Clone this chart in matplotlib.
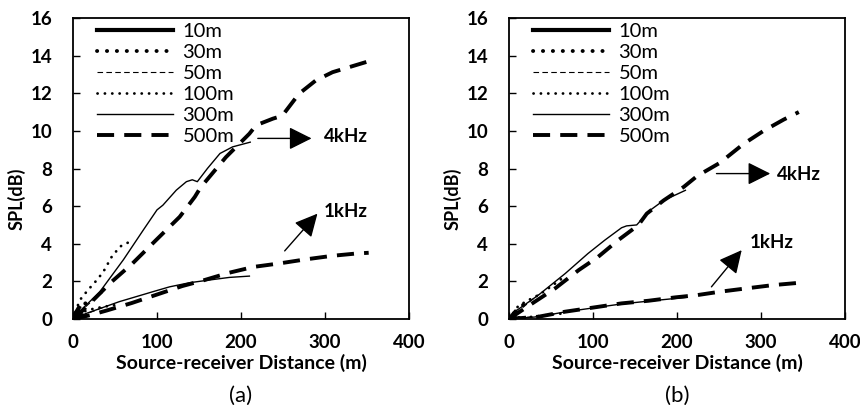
import numpy as np
import matplotlib
matplotlib.use('Agg')
import matplotlib.pyplot as plt

plt.rcParams['font.family'] = ['Lato', 'DejaVu Sans']

dist_labels = ['10m', '30m', '50m', '100m', '300m', '500m']

# ---- panel (a), 4kHz
a4k_10m_x = [0, 3, 7];              a4k_10m_y = [0, 0.3, 0.6]
a4k_30m_x = [0, 7, 14, 21];         a4k_30m_y = [0, 0.45, 0.8, 1.1]
a4k_50m_x = [0, 10, 20, 35];        a4k_50m_y = [0, 0.45, 0.85, 1.4]
a4k_100m_x = [0, 8, 18, 28, 36, 46, 56, 65, 73]
a4k_100m_y = [0, 1.0, 1.55, 2.05, 2.5, 3.3, 3.85, 4.05, 4.2]
a4k_300m_x = [0, 4, 32, 60, 84, 100, 107, 123, 135, 142, 148, 160, 175, 190, 211]
a4k_300m_y = [0, 0.23, 1.45, 3.15, 4.75, 5.8, 6.05, 6.85, 7.3, 7.4, 7.3, 8.0, 8.8, 9.15, 9.4]
a4k_500m_x = [0, 8, 24, 44, 71, 99, 127, 145, 152, 182, 210, 218, 238, 249, 269, 289, 309, 329, 352]
a4k_500m_y = [0, 0.3, 1.0, 1.9, 2.96, 4.2, 5.43, 6.49, 7.0, 8.6, 9.85, 10.3, 10.65, 10.8, 11.97, 12.68, 13.12, 13.39, 13.7]

# ---- panel (a), 1kHz
a1k_10m_x = [0, 7];                 a1k_10m_y = [0, 0.25]
a1k_30m_x = [0, 21];                a1k_30m_y = [0, 0.4]
a1k_50m_x = [0, 35];                a1k_50m_y = [0, 0.6]
a1k_100m_x = [0, 10, 20, 36, 52];   a1k_100m_y = [0, 0.35, 0.5, 0.65, 0.75]
a1k_300m_x = [0, 16, 55, 95, 115, 139, 162, 186, 210]
a1k_300m_y = [0, 0.3, 0.92, 1.45, 1.71, 1.93, 2.07, 2.21, 2.28]
a1k_500m_x = [0, 20, 40, 70, 100, 130, 155, 185, 215, 245, 277, 309, 337, 352]
a1k_500m_y = [0, 0.2, 0.45, 0.85, 1.3, 1.75, 2.05, 2.45, 2.77, 2.95, 3.17, 3.36, 3.48, 3.52]

# ---- panel (b), 4kHz
b4k_10m_x = [0, 7];                 b4k_10m_y = [0, 0.35]
b4k_30m_x = [0, 10, 21];            b4k_30m_y = [0, 0.5, 0.9]
b4k_50m_x = [0, 35];                b4k_50m_y = [0, 1.3]
b4k_100m_x = [0, 11, 23, 35, 43, 55, 65]
b4k_100m_y = [0, 0.69, 1.0, 1.27, 1.5, 1.89, 2.21]
b4k_300m_x = [0, 7, 35, 67, 94, 114, 134, 140, 152, 168, 184, 210]
b4k_300m_y = [0, 0.39, 1.27, 2.42, 3.48, 4.19, 4.85, 4.95, 5.0, 5.78, 6.3, 6.84]
b4k_500m_x = [0, 25, 55, 83, 106, 130, 154, 164, 184, 208, 224, 251, 279, 303, 327, 345]
b4k_500m_y = [0, 0.75, 1.63, 2.6, 3.3, 4.19, 4.99, 5.6, 6.3, 7.02, 7.6, 8.3, 9.3, 10.0, 10.6, 11.0]

# ---- panel (b), 1kHz
b1k_10m_x = [0, 7];                 b1k_10m_y = [0, 0.05]
b1k_30m_x = [0, 21];                b1k_30m_y = [0, 0.1]
b1k_50m_x = [0, 35];                b1k_50m_y = [0, 0.15]
b1k_100m_x = [0, 20, 40, 65];       b1k_100m_y = [0, 0.08, 0.18, 0.3]
b1k_300m_x = [0, 35, 67, 102, 134, 166, 211]
b1k_300m_y = [0, 0.12, 0.38, 0.6, 0.8, 0.95, 1.15]
b1k_500m_x = [0, 35, 67, 102, 134, 166, 198, 224, 251, 283, 314, 352]
b1k_500m_y = [0, 0.12, 0.39, 0.62, 0.83, 0.97, 1.15, 1.27, 1.45, 1.63, 1.8, 1.95]

# arrows: (start), (end), text position, text
a_arrows = [((220, 9.6), (284, 9.6), (299, 9.7), '4kHz'),
            ((252, 3.62), (291, 5.6), (299, 5.7), '1kHz')]
b_arrows = [((247, 7.73), (311, 7.73), (319, 7.7), '4kHz'),
            ((241, 1.71), (277, 3.66), (287, 4.05), '1kHz')]

styles = {
    '10m':  dict(lw=3.0, ls='-'),
    '30m':  dict(lw=2.8, ls=(0, (0.05, 2.5)), dash_capstyle='round'),
    '50m':  dict(lw=0.8, ls=(0, (5.0, 3.0))),
    '100m': dict(lw=2.0, ls=(0, (0.05, 2.6)), dash_capstyle='round'),
    '300m': dict(lw=1.0, ls='-'),
    '500m': dict(lw=2.8, ls=(0, (4.4, 2.6))),
}

panels = [
    ('(a)', [a4k_10m_x, a4k_30m_x, a4k_50m_x, a4k_100m_x, a4k_300m_x, a4k_500m_x],
            [a4k_10m_y, a4k_30m_y, a4k_50m_y, a4k_100m_y, a4k_300m_y, a4k_500m_y],
            [a1k_10m_x, a1k_30m_x, a1k_50m_x, a1k_100m_x, a1k_300m_x, a1k_500m_x],
            [a1k_10m_y, a1k_30m_y, a1k_50m_y, a1k_100m_y, a1k_300m_y, a1k_500m_y], a_arrows),
    ('(b)', [b4k_10m_x, b4k_30m_x, b4k_50m_x, b4k_100m_x, b4k_300m_x, b4k_500m_x],
            [b4k_10m_y, b4k_30m_y, b4k_50m_y, b4k_100m_y, b4k_300m_y, b4k_500m_y],
            [b1k_10m_x, b1k_30m_x, b1k_50m_x, b1k_100m_x, b1k_300m_x, b1k_500m_x],
            [b1k_10m_y, b1k_30m_y, b1k_50m_y, b1k_100m_y, b1k_300m_y, b1k_500m_y], b_arrows),
]

fig = plt.figure(figsize=(8.6, 4.05), dpi=100)
lefts = [73/860., 509/860.]

for k, (tag, x4, y4, x1, y1, arrows) in enumerate(panels):
    ax = fig.add_axes([lefts[k], 86/405., 336/860., 301/405.])
    for i, lab in enumerate(dist_labels):
        ax.plot(x4[i], y4[i], color='k', label=lab, **styles[lab])
        ax.plot(x1[i], y1[i], color='k', **styles[lab])

    for (p0, p1, pt, txt) in arrows:
        ax.annotate('', xy=p1, xytext=p0,
                    arrowprops=dict(arrowstyle='-|>,head_length=1.4,head_width=0.7',
                                    mutation_scale=10, color='k', lw=1.0,
                                    shrinkA=0, shrinkB=0))
        ax.text(pt[0], pt[1], txt, fontsize=13.5, fontweight='bold', va='center', ha='left')

    ax.set_xlim(0, 400)
    ax.set_ylim(0, 16)
    ax.set_xticks(np.arange(0, 401, 100))
    ax.set_yticks(np.arange(0, 17, 2))
    ax.tick_params(direction='in', length=5, width=1, labelsize=13.5)
    ax.tick_params(axis='x', pad=11)
    ax.tick_params(axis='y', pad=15)
    for t in ax.get_xticklabels() + ax.get_yticklabels():
        t.set_fontweight('bold')
    for s in ax.spines.values():
        s.set_linewidth(1.3)
    ax.set_xlabel('Source-receiver Distance (m)', fontsize=14, fontweight='bold')
    ax.xaxis.set_label_coords(0.5, -0.115)
    ax.set_ylabel('SPL(dB)', fontsize=13, fontweight='bold')
    ax.yaxis.set_label_coords(-0.14, 0.40)
    ax.text(0.5, -0.255, tag, transform=ax.transAxes, ha='center', va='center', fontsize=16)

    ax.legend(loc='upper left', bbox_to_anchor=(0.071, 0.985), frameon=False,
              fontsize=14.5, handlelength=3.8, handletextpad=0.45,
              labelspacing=0.2, borderpad=0, borderaxespad=0)

plt.savefig('out.png', dpi=100)
